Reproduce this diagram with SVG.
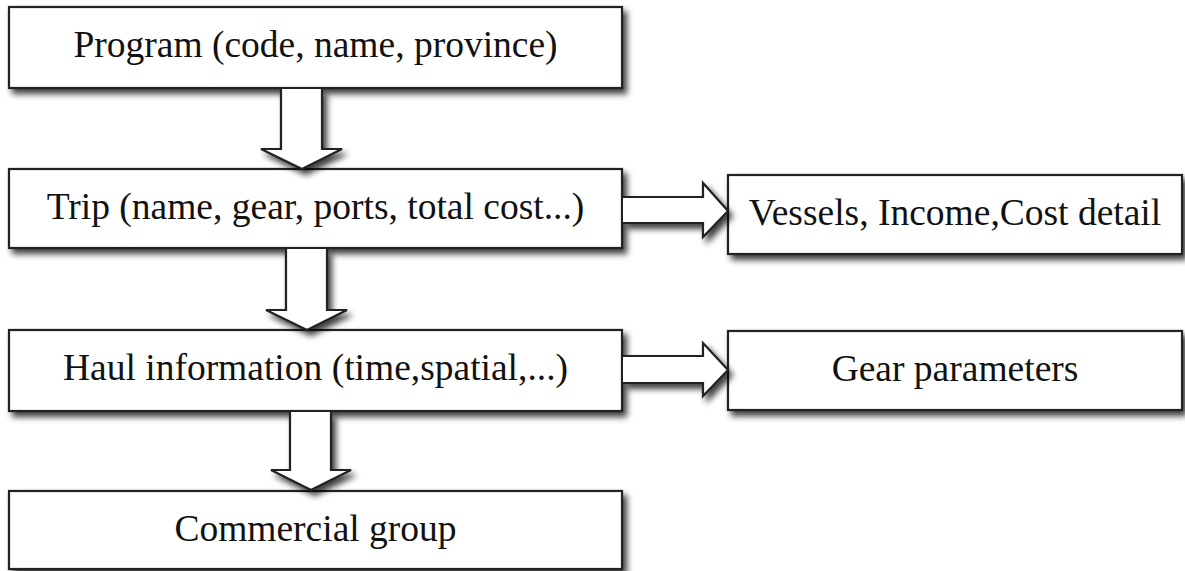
<svg xmlns="http://www.w3.org/2000/svg" width="1185" height="571" viewBox="0 0 1185 571">
  <defs>
    <filter id="sh" x="-10%" y="-20%" width="130%" height="150%">
      <feDropShadow dx="4" dy="5" stdDeviation="3" flood-color="#000" flood-opacity="0.75"/>
    </filter>
    <style>
      .box { fill: #fff; stroke: #222; stroke-width: 2.2; filter: url(#sh); }
      .arr { fill: #fff; stroke: #222; stroke-width: 2.2; stroke-linejoin: miter; filter: url(#sh); }
      .lbl { font-family: "Liberation Serif", "DejaVu Serif", serif; font-size: 37.5px; fill: #111; text-anchor: middle; }
    </style>
  </defs>
  <rect width="1185" height="571" fill="#fff"/>
  <g id="program">
    <rect class="box" x="9" y="7" width="613" height="81"/>
    <text class="lbl" x="315.5" y="57">Program (code, name, province)</text>
  </g>
  <g id="trip">
    <rect class="box" x="9" y="169" width="613" height="79"/>
    <text class="lbl" x="315.5" y="219">Trip (name, gear, ports, total cost...)</text>
  </g>
  <g id="haul">
    <rect class="box" x="9" y="330" width="613" height="81"/>
    <text class="lbl" x="315.5" y="380">Haul information (time,spatial,...)</text>
  </g>
  <g id="commercial">
    <rect class="box" x="9" y="491" width="613" height="78"/>
    <text class="lbl" x="315.5" y="541">Commercial group</text>
  </g>
  <g id="vessels">
    <rect class="box" x="728" y="175" width="454" height="79"/>
    <text class="lbl" x="955" y="225">Vessels, Income,Cost detail</text>
  </g>
  <g id="gear">
    <rect class="box" x="728" y="331" width="454" height="79"/>
    <text class="lbl" x="955" y="381">Gear parameters</text>
  </g>
  <g id="connectors">
    <path class="arr" d="M281,89 V149 H261 L302,169 L342,149 H322 V89"/>
    <path class="arr" d="M286,249 V310 H266 L307,330 L347,310 H327 V249"/>
    <path class="arr" d="M290,412 V470 H271 L311,490 L351,470 H331 V412"/>
    <path class="arr" d="M623,197 H703 V183 L728,211 L703,237 V223 H623"/>
    <path class="arr" d="M623,356 H703 V343 L728,370 L703,396 V383 H623"/>
  </g>
</svg>
